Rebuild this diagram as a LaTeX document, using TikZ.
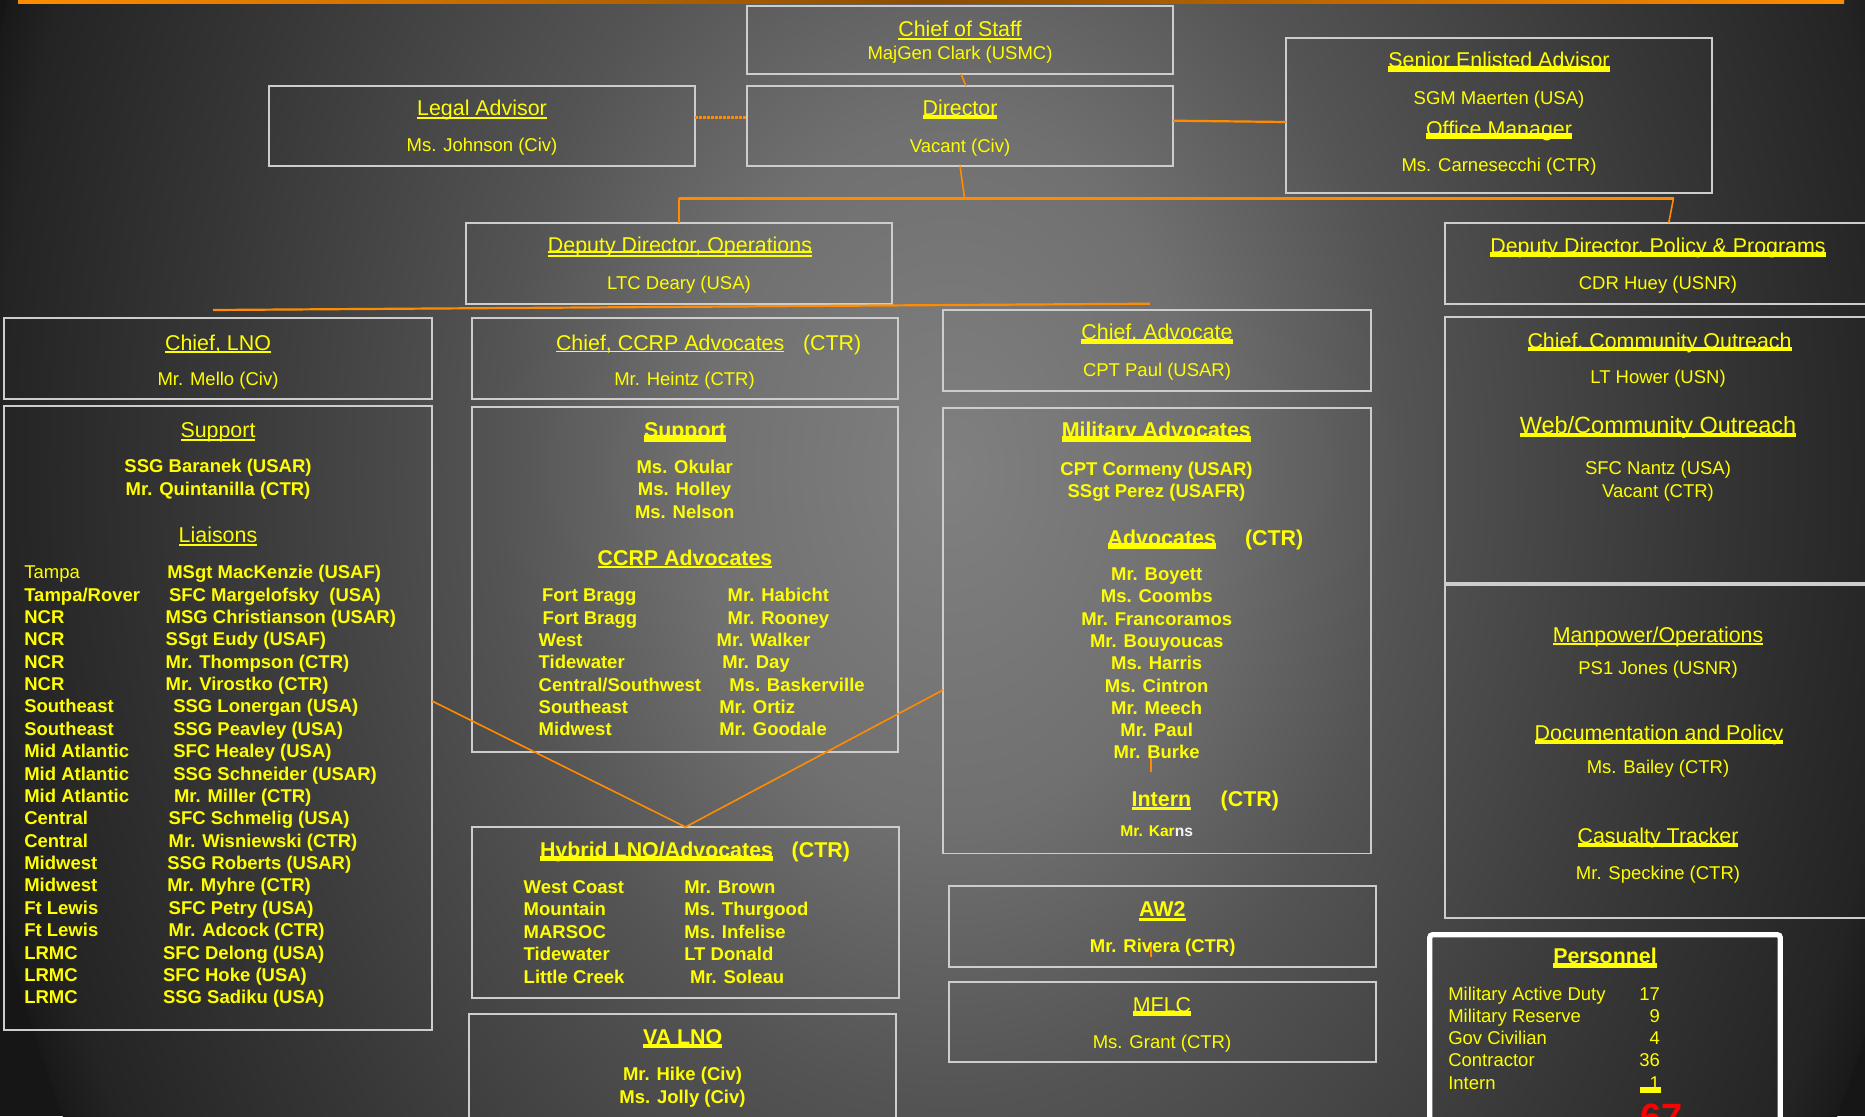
\documentclass[tikz,border=0pt]{standalone}
\usepackage{fontspec}
\setmainfont{Liberation Sans}
\definecolor{ycol}{RGB}{255,255,0}
\definecolor{ocol}{RGB}{255,140,0}
\definecolor{bcol}{RGB}{205,205,205}
\definecolor{bgA}{RGB}{128,128,128}
\definecolor{bgB}{RGB}{112,112,112}
\definecolor{bgC}{RGB}{84,84,84}
\definecolor{bgD}{RGB}{54,54,54}
\definecolor{bgE}{RGB}{36,36,36}
\definecolor{bgG}{RGB}{25,25,25}
\definecolor{bgF}{RGB}{22,22,22}
\pgfdeclareradialshading{bgsh}{\pgfpoint{0bp}{0bp}}{color(0bp)=(bgA); color(6.25bp)=(bgB); color(11.25bp)=(bgC); color(18.75bp)=(bgD); color(23.75bp)=(bgE); color(25bp)=(bgG); color(50bp)=(bgG)}
\newcommand\fsT{\fontsize{21.4}{24}\selectfont}
\newcommand\fsN{\fontsize{18.5}{21}\selectfont}
\tikzset{
  box/.style={draw=bcol, line width=1.4pt, inner sep=0pt, outer sep=0pt},
  txt/.style={inner sep=0pt, outer sep=0pt, anchor=base, text=ycol, font=\fsN},
  ttl/.style={txt, font=\fsT},
  ttlb/.style={txt, font=\fsT\bfseries},
  nmb/.style={txt, font=\fsN\bfseries},
  lft/.style={anchor=base west},
  rgt/.style={anchor=base east},
  conn/.style={draw=ocol, line width=1.6pt},
}
% name, offset below baseline, thickness, style, position, text
\newcommand\ult[6]{\node[#4] (#1) at (#5) {#6};
  \fill[ycol] ([yshift={-(#2pt)}]#1.base west) rectangle ([yshift={-(#2pt)-(#3pt)}]#1.base east);}
\newcommand\Lrow[4]{\node[nmb,lft] (#1) at (#2,#3) {#4};}
\begin{document}
\begin{tikzpicture}[x=1pt,y=-1pt]
\useasboundingbox (0,0) rectangle (1865,1116);
\clip (0,0) rectangle (1865,1116);
% background
\fill[bgF] (0,0) rectangle (1865,1116);
\begin{scope}[transform canvas={shift={(950,470)}, xscale=0.7143}]
  \shade[shading=bgsh] (0,0) circle [radius=1400pt];
\end{scope}
\shade[left color=ocol, right color=ocol, middle color=ocol!55!black] (18,0) rectangle (1844,3.5);

% boxes
\node[box, minimum width=426pt, minimum height=68pt] (cos) at (960,40) {};
\node[box, minimum width=426pt, minimum height=80pt] (legal) at (482,126) {};
\node[box, minimum width=426pt, minimum height=80pt] (dir) at (960,126) {};
\node[box, minimum width=426pt, minimum height=155pt] (sea) at (1499,115.5) {};
\node[box, minimum width=426pt, minimum height=81pt] (ddo) at (679,263.5) {};
\node[box, minimum width=430pt, minimum height=81pt] (ddpp) at (1660,263.5) {};
\node[box, minimum width=428pt, minimum height=81pt] (clno) at (218,358.5) {};
\node[box, minimum width=428pt, minimum height=624pt] (lno) at (218,718) {};
\node[box, minimum width=426pt, minimum height=81pt] (cccrp) at (685,358.5) {};
\node[box, minimum width=426pt, minimum height=345pt] (ccrp) at (685,579.5) {};
\node[box, minimum width=427pt, minimum height=171pt] (hyb) at (685.5,912.5) {};
\node[box, minimum width=427pt, minimum height=116pt] (valno) at (682.5,1072) {};
\node[box, minimum width=428pt, minimum height=81pt] (cadv) at (1157,350.5) {};
\node[box, minimum width=428pt, minimum height=445.5pt] (madv) at (1157,630.75) {};
\node[box, minimum width=427pt, minimum height=81pt] (aw2) at (1162.5,926.5) {};
\node[box, minimum width=427pt, minimum height=80pt] (mflc) at (1162.5,1022) {};
\node[box, minimum width=430pt, minimum height=266pt] (cco) at (1660,450) {};
\node[box, minimum width=430pt, minimum height=333pt] (man) at (1660,751.5) {};
\node[draw=white, line width=5.3pt, rounded corners=3pt, inner sep=0pt, minimum width=350.6pt, minimum height=200.3pt] (pers) at (1605,1034.85) {};

% connectors
\draw[conn] ([xshift=1pt]cos.south) -- ([xshift=6pt]dir.north);
\draw[conn, line width=2.4pt, dash pattern=on 2.6pt off 1.4pt] ([yshift=8.7pt]legal.east) -- ([yshift=8.7pt]dir.west);
\draw[conn, line width=2.2pt] ([yshift=5.3pt]dir.east) -- ([yshift=-6.5pt]sea.west);
\coordinate (jc) at (964.6,198.3);
\coordinate (jl) at (679,198.3);
\coordinate (jr) at (1673.5,198.3);
\draw[conn] (dir.south) -- (jc);
\draw[conn, line width=2.4pt] (jl) -- (jr);
\draw[conn] (jl) -- (ddo.north);
\draw[conn] (jr) -- ([xshift=8.7pt]ddpp.north);
\coordinate (rl) at (213,310);
\coordinate (rr) at (1150,303.7);
\draw[conn, line width=2.2pt] (rl) -- (rr);
\draw[conn] ([yshift=17pt]lno.east) -- (hyb.north) -- ([yshift=-59.25pt]madv.west);
\coordinate (tka) at (1151,753.6);
\coordinate (tkb) at (1151,772);
\coordinate (tkc) at (1151,941.7);
\coordinate (tkd) at (1151,957.3);
\draw[conn] (tka) -- (tkb);
\draw[conn] (tkc) -- (tkd);

% top row
\ult{cosT}{1.2}{2}{ttl}{960,36.5}{Chief of Staff}
\node[txt] (cosN) at (960,59.7) {MajGen Clark (USMC)};
\ult{legalT}{1.7}{2}{ttl}{482,115}{Legal Advisor}
\node[txt] (legalN) at (482,151.5) {Ms. Johnson (Civ)};
\ult{dirT}{-0.7}{4.3}{ttl}{960,115.7}{Director}
\node[txt] (dirN) at (960,152) {Vacant (Civ)};
\ult{seaT}{-1.7}{5.7}{ttl}{1499,67.7}{Senior Enlisted Advisor}
\node[txt] (seaN) at (1499,104.7) {SGM Maerten (USA)};
\ult{omT}{-2.7}{6}{ttl}{1499,136}{Office Manager}
\node[txt] (omN) at (1499,171.7) {Ms. Carnesecchi (CTR)};

% deputies
\node[ttl] (ddoT) at (680,252) {Deputy Director, Operations};
\fill[ycol] ([yshift=0.7pt]ddoT.base west) rectangle ([yshift=-1.3pt]ddoT.base east);
\fill[ycol] ([yshift=-3pt]ddoT.base west) rectangle ([yshift=-5.3pt]ddoT.base east);
\node[txt] (ddoN) at (679,289.7) {LTC Deary (USA)};
\ult{ddppT}{-1.8}{5}{ttl}{1658,253.5}{Deputy Director, Policy \& Programs}
\node[txt] (ddppN) at (1658,289.7) {CDR Huey (USNR)};

% LNO column
\ult{clnoT}{1.2}{1.3}{ttl}{218,350}{Chief, LNO}
\node[txt] (clnoN) at (218,385.7) {Mr. Mello (Civ)};
\ult{lnoS}{1.6}{2}{ttl}{218,437.7}{Support}
\node[nmb] (lnoS1) at (218,472.5) {SSG Baranek (USAR)};
\node[nmb] (lnoS2) at (218,495.5) {Mr. Quintanilla (CTR)};
\ult{lnoL}{1.6}{2}{ttl}{218,542.7}{Liaisons}
\node[txt,lft] (lA1) at (24.3,578.7) {Tampa};
\Lrow{lB1}{167.3}{578.7}{MSgt MacKenzie (USAF)}
\Lrow{lA2}{24.3}{601.1}{Tampa/Rover}
\Lrow{lB2}{169}{601.1}{SFC Margelofsky~ (USA)}
\Lrow{lA3}{24.3}{623.4}{NCR}
\Lrow{lB3}{165.7}{623.4}{MSG Christianson (USAR)}
\Lrow{lA4}{24.3}{645.8}{NCR}
\Lrow{lB4}{165.7}{645.8}{SSgt Eudy (USAF)}
\Lrow{lA5}{24.3}{668.2}{NCR}
\Lrow{lB5}{165.7}{668.2}{Mr. Thompson (CTR)}
\Lrow{lA6}{24.3}{690.6}{NCR}
\Lrow{lB6}{165.7}{690.6}{Mr. Virostko (CTR)}
\Lrow{lA7}{24.3}{712.9}{Southeast}
\Lrow{lB7}{173.3}{712.9}{SSG Lonergan (USA)}
\Lrow{lA8}{24.3}{735.3}{Southeast}
\Lrow{lB8}{173.3}{735.3}{SSG Peavley (USA)}
\Lrow{lA9}{24.3}{757.7}{Mid Atlantic}
\Lrow{lB9}{173.3}{757.7}{SFC Healey (USA)}
\Lrow{lA10}{24.3}{780.0}{Mid Atlantic}
\Lrow{lB10}{173.3}{780.0}{SSG Schneider (USAR)}
\Lrow{lA11}{24.3}{802.4}{Mid Atlantic}
\Lrow{lB11}{174}{802.4}{Mr. Miller (CTR)}
\Lrow{lA12}{24.3}{824.8}{Central}
\Lrow{lB12}{168.7}{824.8}{SFC Schmelig (USA)}
\Lrow{lA13}{24.3}{847.1}{Central}
\Lrow{lB13}{168.7}{847.1}{Mr. Wisniewski (CTR)}
\Lrow{lA14}{24.3}{869.5}{Midwest}
\Lrow{lB14}{167.3}{869.5}{SSG Roberts (USAR)}
\Lrow{lA15}{24.3}{891.9}{Midwest}
\Lrow{lB15}{167.3}{891.9}{Mr. Myhre (CTR)}
\Lrow{lA16}{24.3}{914.3}{Ft Lewis}
\Lrow{lB16}{168.7}{914.3}{SFC Petry (USA)}
\Lrow{lA17}{24.3}{936.6}{Ft Lewis}
\Lrow{lB17}{168.7}{936.6}{Mr. Adcock (CTR)}
\Lrow{lA18}{24.3}{959.0}{LRMC}
\Lrow{lB18}{163}{959.0}{SFC Delong (USA)}
\Lrow{lA19}{24.3}{981.4}{LRMC}
\Lrow{lB19}{163}{981.4}{SFC Hoke (USA)}
\Lrow{lA20}{24.3}{1003.7}{LRMC}
\Lrow{lB20}{163}{1003.7}{SSG Sadiku (USA)}

% CCRP column
\ult{cccrpT}{0.7}{1.7}{ttl,lft}{556,350}{Chief, CCRP Advocates}
\node[ttl,lft] (cccrpC) at (803,350) {(CTR)};
\node[txt] (cccrpN) at (684.5,385) {Mr. Heintz (CTR)};
\ult{ccrpS}{-2}{6.5}{ttlb}{685,437}{Support}
\node[nmb] (ccrpS1) at (684.7,473.3) {Ms. Okular};
\node[nmb] (ccrpS2) at (684.5,495.7) {Ms. Holley};
\node[nmb] (ccrpS3) at (684.7,518.3) {Ms. Nelson};
\ult{ccrpA}{0.7}{2.5}{ttlb}{685,565}{CCRP Advocates}
\Lrow{cA1}{542}{601.7}{Fort Bragg}
\Lrow{cB1}{727.7}{601.7}{Mr. Habicht}
\Lrow{cA2}{542.7}{624.1}{Fort Bragg}
\Lrow{cB2}{727.7}{624.1}{Mr. Rooney}
\Lrow{cA3}{538.7}{646.4}{West}
\Lrow{cB3}{716.7}{646.4}{Mr. Walker}
\Lrow{cA4}{538.7}{668.8}{Tidewater}
\Lrow{cB4}{722.3}{668.8}{Mr. Day}
\Lrow{cA5}{538.7}{691.1}{Central/Southwest}
\Lrow{cB5}{729.3}{691.1}{Ms. Baskerville}
\Lrow{cA6}{538.7}{713.5}{Southeast}
\Lrow{cB6}{719.3}{713.5}{Mr. Ortiz}
\Lrow{cA7}{538.7}{735.8}{Midwest}
\Lrow{cB7}{719.3}{735.8}{Mr. Goodale}

% Hybrid
\ult{hybT}{-1.3}{5}{ttlb,lft}{540,857.3}{Hybrid LNO/Advocates}
\node[ttlb,lft] (hybC) at (791.7,857.3) {(CTR)};
\Lrow{hA1}{523.7}{893.3}{West Coast}
\Lrow{hB1}{684.3}{893.3}{Mr. Brown}
\Lrow{hA2}{523.7}{915.8}{Mountain}
\Lrow{hB2}{684.3}{915.8}{Ms. Thurgood}
\Lrow{hA3}{523.7}{938.3}{MARSOC}
\Lrow{hB3}{684.3}{938.3}{Ms. Infelise}
\Lrow{hA4}{523.7}{960.8}{Tidewater}
\Lrow{hB4}{684.3}{960.8}{LT Donald}
\Lrow{hA5}{523.7}{983.3}{Little Creek}
\Lrow{hB5}{690}{983.3}{Mr. Soleau}

% VA LNO
\ult{vaT}{0}{3.5}{ttlb}{682.7,1044}{VA LNO}
\node[nmb] (vaN1) at (682.5,1080.7) {Mr. Hike (Civ)};
\node[nmb] (vaN2) at (682.5,1103.3) {Ms. Jolly (Civ)};

% Advocate column
\ult{cadvT}{-1}{5}{ttl}{1157,339.5}{Chief, Advocate}
\node[txt] (cadvN) at (1157,376) {CPT Paul (USAR)};
\ult{madvT}{-1.3}{5.3}{ttlb}{1156.3,437.5}{Military Advocates}
\node[nmb] (madv1) at (1156.5,475) {CPT Cormeny (USAR)};
\node[nmb] (madv2) at (1156.5,497) {SSgt Perez (USAFR)};
\ult{advT}{-2.5}{6}{ttlb,lft}{1107.7,545.4}{Advocates}
\node[ttlb,lft] (advC) at (1245,545.4) {(CTR)};
\node[nmb] (av1) at (1156.7,580.4) {Mr. Boyett};
\node[nmb] (av2) at (1156.7,602.7) {Ms. Coombs};
\node[nmb] (av3) at (1156.7,625.0) {Mr. Francoramos};
\node[nmb] (av4) at (1156.7,647.3) {Mr. Bouyoucas};
\node[nmb] (av5) at (1156.7,669.6) {Ms. Harris};
\node[nmb] (av6) at (1156.7,692.0) {Ms. Cintron};
\node[nmb] (av7) at (1156.7,714.3) {Mr. Meech};
\node[nmb] (av8) at (1156.7,736.6) {Mr. Paul};
\node[nmb] (av9) at (1156.7,758.9) {Mr. Burke};
\ult{intT}{0.6}{3}{ttlb,lft}{1131.7,806.4}{Intern}
\node[ttlb,lft] (intC) at (1220.7,806.4) {(CTR)};
\node[txt, font=\fontsize{15.6}{18}\selectfont\bfseries] (intN) at (1156.7,836.8) {Mr. Kar\textcolor{white!92!gray}{ns}};

% AW2 / MFLC
\ult{aw2T}{1}{3}{ttlb}{1162.3,916.7}{AW2}
\node[nmb] (aw2N) at (1162.7,952.3) {Mr. Rivera (CTR)};
\ult{mflcT}{-1}{4.5}{ttl}{1162,1012}{MFLC}
\node[txt] (mflcN) at (1162,1048.3) {Ms. Grant (CTR)};

% Right column
\ult{ccoT}{-1}{4}{ttl}{1659.5,348.3}{Chief, Community Outreach}
\node[txt] (ccoN) at (1658,383.5) {LT Hower (USN)};
\ult{webT}{-1}{4.5}{txt,font=\fontsize{23.5}{26}\selectfont}{1658,433.5}{Web/Community Outreach}
\node[txt] (webN1) at (1658,474.8) {SFC Nantz (USA)};
\node[txt] (webN2) at (1658,497) {Vacant (CTR)};
\ult{manT}{0.5}{2}{ttl}{1658,642}{Manpower/Operations}
\node[txt] (manN) at (1658,674.8) {PS1 Jones (USNR)};
\ult{docT}{-0.5}{4}{ttl}{1659,740}{Documentation and Policy}
\node[txt] (docN) at (1658,773.7) {Ms. Bailey (CTR)};
\ult{casT}{-1}{4}{ttl}{1658,843.7}{Casualty Tracker}
\node[txt] (casN) at (1658,879.3) {Mr. Speckine (CTR)};

% Personnel
\ult{persT}{-0.5}{5.5}{ttlb}{1605,963.3}{Personnel}
\node[txt,lft] (pA1) at (1448.3,1000) {Military Active Duty};
\node[txt,rgt] (pB1) at (1660,1000) {17};
\node[txt,lft] (pA2) at (1448.3,1022.3) {Military Reserve};
\node[txt,rgt] (pB2) at (1660,1022.3) {9};
\node[txt,lft] (pA3) at (1448.3,1044.6) {Gov Civilian};
\node[txt,rgt] (pB3) at (1660,1044.6) {4};
\node[txt,lft] (pA4) at (1448.3,1066.9) {Contractor};
\node[txt,rgt] (pB4) at (1660,1066.9) {36};
\node[txt,lft] (pA5) at (1448.3,1089.2) {Intern};
\node[txt,rgt] (pB5) at (1660,1089.2) {1};
\fill[ycol] (1640,1087.3) rectangle (1660.7,1092.7);
\node[txt,lft,text=red,font=\fontsize{38}{40}\selectfont\bfseries] (ptot) at (1640.7,1130) {67};
\end{tikzpicture}
\end{document}
